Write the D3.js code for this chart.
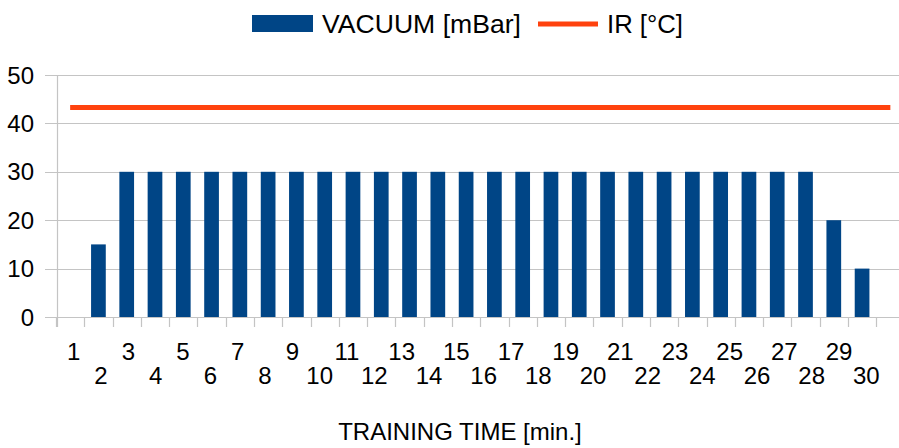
<!DOCTYPE html>
<html>
<head>
<meta charset="utf-8">
<script src="https://cdn.jsdelivr.net/npm/d3@7"></script>
<style>
  html, body { margin: 0; padding: 0; background: #fff; }
  svg { display: block; font-family: 'Liberation Sans', Arial, sans-serif; }
</style>
</head>
<body>
<div id="chart"></div>
<script>
// ── Data ──────────────────────────────────────────────
var minutes = [1, 2, 3, 4, 5, 6, 7, 8, 9, 10, 11, 12, 13, 14, 15,
               16, 17, 18, 19, 20, 21, 22, 23, 24, 25, 26, 27, 28, 29, 30];
var vacuum  = [0, 15, 30, 30, 30, 30, 30, 30, 30, 30, 30, 30, 30, 30, 30,
               30, 30, 30, 30, 30, 30, 30, 30, 30, 30, 30, 30, 20, 10, 0];
var irTemp  = [43.3, 43.3, 43.3, 43.3, 43.3, 43.3, 43.3, 43.3, 43.3, 43.3,
               43.3, 43.3, 43.3, 43.3, 43.3, 43.3, 43.3, 43.3, 43.3, 43.3,
               43.3, 43.3, 43.3, 43.3, 43.3, 43.3, 43.3, 43.3, 43.3, 43.3];
var yTicks  = [0, 10, 20, 30, 40, 50];

var BAR_COLOR  = '#004586';
var LINE_COLOR = '#ff420e';
var GRID_COLOR = '#c4c4c4';

var W = 899, H = 448;

var svg = d3.select('#chart').append('svg')
  .attr('width', W)
  .attr('height', H);

// ── Scales ────────────────────────────────────────────
var x = d3.scaleBand()
  .domain(minutes)
  .range([56, 904.5])
  .paddingInner(0.48)
  .paddingOuter(0.24);

var xLabel = d3.scaleBand()
  .domain(minutes)
  .range([60, 880]);

var y = d3.scaleLinear()
  .domain([0, 50])
  .range([317, 75]);

var step = x.step();
function slotStart(d) { return x(d) - step * x.paddingInner() / 2; }

// ── Grid ──────────────────────────────────────────────
svg.append('g').selectAll('line')
  .data(yTicks)
  .enter().append('line')
  .attr('x1', 45)
  .attr('x2', W)
  .attr('y1', function(d) { return Math.round(y(d)) + 0.5; })
  .attr('y2', function(d) { return Math.round(y(d)) + 0.5; })
  .attr('stroke', GRID_COLOR)
  .attr('stroke-width', 1.2);

svg.append('line')
  .attr('x1', 57.5).attr('x2', 57.5)
  .attr('y1', y(50)).attr('y2', y(0) + 10)
  .attr('stroke', GRID_COLOR)
  .attr('stroke-width', 1.2);

// category tick marks below the axis
svg.append('g').selectAll('line')
  .data(minutes)
  .enter().append('line')
  .attr('x1', function(d) { return Math.round(slotStart(d)) + 0.5; })
  .attr('x2', function(d) { return Math.round(slotStart(d)) + 0.5; })
  .attr('y1', y(0))
  .attr('y2', y(0) + 10)
  .attr('stroke', GRID_COLOR)
  .attr('stroke-width', 1.2);

// ── Bars ──────────────────────────────────────────────
svg.append('g').selectAll('rect')
  .data(minutes)
  .enter().append('rect')
  .attr('x', function(d) { return x(d); })
  .attr('width', x.bandwidth())
  .attr('y', function(d, i) { return y(vacuum[i]); })
  .attr('height', function(d, i) { return y(0) - y(vacuum[i]); })
  .attr('fill', BAR_COLOR);

// ── IR line ───────────────────────────────────────────
var line = d3.line()
  .x(function(d, i) { return x(minutes[i]) + x.bandwidth() / 2; })
  .y(function(d) { return y(d); });

svg.append('path')
  .datum(irTemp)
  .attr('d', line)
  .attr('fill', 'none')
  .attr('stroke', LINE_COLOR)
  .attr('stroke-width', 5);

// ── Axis labels ───────────────────────────────────────
svg.append('g').selectAll('text')
  .data(yTicks)
  .enter().append('text')
  .attr('x', 34)
  .attr('y', function(d) { return y(d) + 8.5; })
  .attr('text-anchor', 'end')
  .attr('font-size', '24px')
  .attr('fill', '#000')
  .text(function(d) { return d; });

svg.append('g').selectAll('text')
  .data(minutes)
  .enter().append('text')
  .attr('x', function(d) { return xLabel(d) + xLabel.bandwidth() / 2; })
  .attr('y', function(d, i) { return i % 2 === 0 ? 360 : 384; })
  .attr('text-anchor', 'middle')
  .attr('font-size', '24px')
  .attr('fill', '#000')
  .text(function(d) { return d; });

svg.append('text')
  .attr('x', 460)
  .attr('y', 440)
  .attr('text-anchor', 'middle')
  .attr('font-size', '24px')
  .attr('fill', '#000')
  .text('TRAINING TIME [min.]');

// ── Legend ────────────────────────────────────────────
var legend = svg.append('g');
legend.append('rect')
  .attr('x', 252).attr('y', 15)
  .attr('width', 61).attr('height', 17)
  .attr('fill', BAR_COLOR);
legend.append('text')
  .attr('x', 322).attr('y', 33)
  .attr('font-size', '25px')
  .attr('textLength', 199)
  .attr('lengthAdjust', 'spacingAndGlyphs')
  .attr('fill', '#000')
  .text('VACUUM [mBar]');
legend.append('line')
  .attr('x1', 538).attr('x2', 598)
  .attr('y1', 24).attr('y2', 24)
  .attr('stroke', LINE_COLOR)
  .attr('stroke-width', 5);
legend.append('text')
  .attr('x', 607).attr('y', 33)
  .attr('font-size', '25px')
  .attr('textLength', 76)
  .attr('lengthAdjust', 'spacingAndGlyphs')
  .attr('fill', '#000')
  .text('IR [°C]');
</script>
</body>
</html>
